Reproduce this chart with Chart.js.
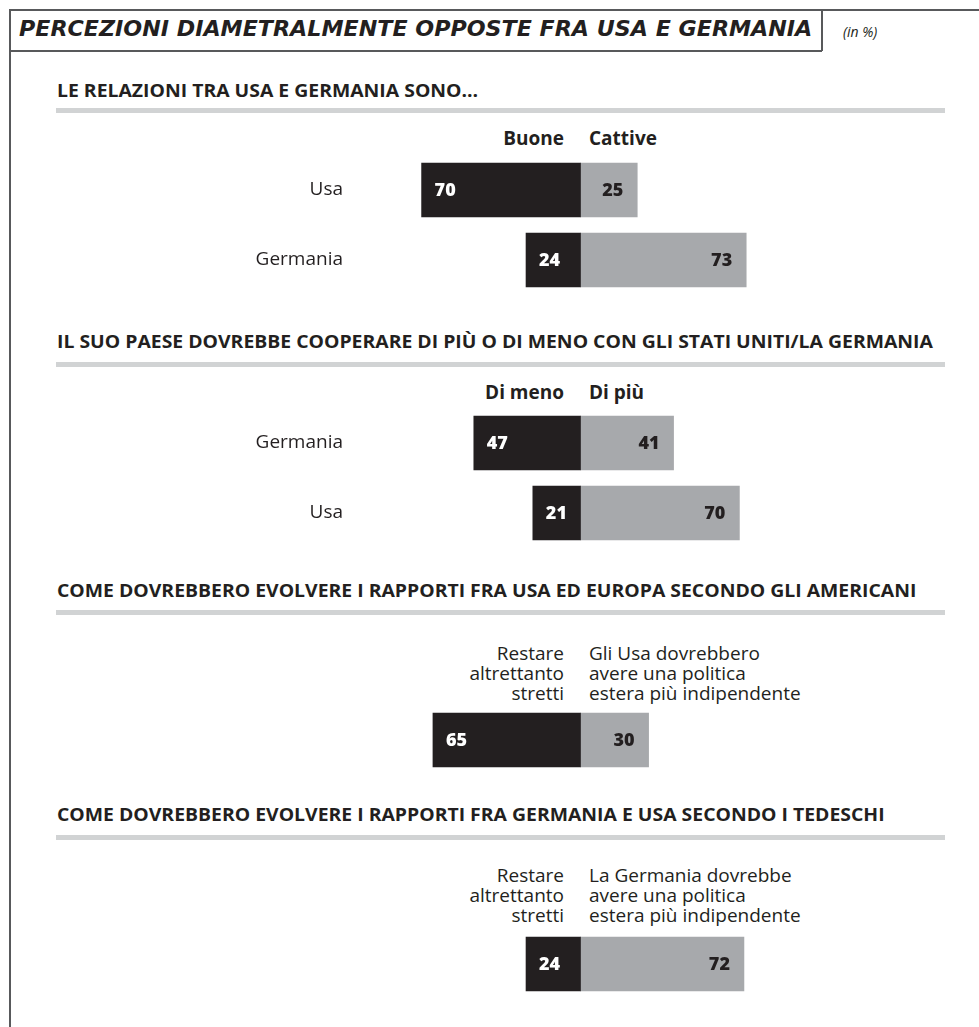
<!DOCTYPE html>
<html lang="it">
<head>
<meta charset="utf-8">
<title>Percezioni diametralmente opposte fra Usa e Germania</title>
<script src="https://cdn.jsdelivr.net/npm/chart.js@4.4.0/dist/chart.umd.min.js"></script>
<style>
  body { margin: 0; background: #fff; font-family: "Open Sans", sans-serif; color: #231f20; }
  #page { position: relative; width: 979px; height: 1027px; overflow: hidden; }
  .abs { position: absolute; white-space: nowrap; }
  .line { position: absolute; background: #58595b; }
  .rule { position: absolute; left: 56px; width: 889px; height: 5px; background: #d1d3d4; }
  .title { left: 19px; top: 14px; line-height: 30px; font-family: "DejaVu Sans", sans-serif; font-weight: bold; font-style: italic; font-size: 22px; transform-origin: left center; }
  .unit { left: 843px; top: 22px; line-height: 20px; font-size: 14px; font-style: italic; }
  .head { left: 57px; line-height: 24px; font-size: 17px; font-weight: bold; transform-origin: left center; }
  .colL { right: 415px; text-align: right; line-height: 20px; font-size: 19px; }
  .colR { left: 589px; text-align: left; line-height: 20px; font-size: 19px; }
  .bold { font-weight: bold; }
  canvas { position: absolute; left: 0; }
</style>
</head>
<body>
<div id="page">
  <div class="line" style="left:9px; top:9px; width:970px; height:1.5px;"></div>
  <div class="line" style="left:9px; top:9px; width:1.5px; height:1018px;"></div>
  <div class="line" style="left:821px; top:9px; width:1.5px; height:42px;"></div>
  <div class="line" style="left:9px; top:50px; width:813px; height:1.5px;"></div>
  <div class="abs title" id="title">PERCEZIONI DIAMETRALMENTE OPPOSTE FRA USA E GERMANIA</div>
  <div class="abs unit">(in %)</div>

  <div class="abs head" id="h1" style="top:79px;"></div>
  <div class="rule" style="top:108px;"></div>
  <div class="abs colL bold" id="c1l" style="top:128px;"></div>
  <div class="abs colR bold" id="c1r" style="top:128px;"></div>
  <canvas id="chart1" width="979" height="140" style="top:155px;"></canvas>

  <div class="abs head" id="h2" style="top:330px;"></div>
  <div class="rule" style="top:362px;"></div>
  <div class="abs colL bold" id="c2l" style="top:382px;"></div>
  <div class="abs colR bold" id="c2r" style="top:382px;"></div>
  <canvas id="chart2" width="979" height="140" style="top:408px;"></canvas>

  <div class="abs head" id="h3" style="top:579px;"></div>
  <div class="rule" style="top:610px;"></div>
  <div class="abs colL" id="c3l" style="top:643px;"></div>
  <div class="abs colR" id="c3r" style="top:643px;"></div>
  <canvas id="chart3" width="979" height="70" style="top:705px;"></canvas>

  <div class="abs head" id="h4" style="top:803px;"></div>
  <div class="rule" style="top:835px;"></div>
  <div class="abs colL" id="c4l" style="top:865px;"></div>
  <div class="abs colR" id="c4r" style="top:865px;"></div>
  <canvas id="chart4" width="979" height="70" style="top:929px;"></canvas>
</div>
<script>
// --- dati (in %) ---
const headings = [
  'LE RELAZIONI TRA USA E GERMANIA SONO\u2026',
  'IL SUO PAESE DOVREBBE COOPERARE DI PI\u00d9 O DI MENO CON GLI STATI UNITI/LA GERMANIA',
  'COME DOVREBBERO EVOLVERE I RAPPORTI FRA USA ED EUROPA SECONDO GLI AMERICANI',
  'COME DOVREBBERO EVOLVERE I RAPPORTI FRA GERMANIA E USA SECONDO I TEDESCHI'
];

const relCategories = ['Usa', 'Germania'];
const relLabels = ['Buone', 'Cattive'];
const relBuone = [70, 24];
const relCattive = [25, 73];

const coopCategories = ['Germania', 'Usa'];
const coopLabels = ['Di meno', 'Di pi\u00f9'];
const coopMeno = [47, 21];
const coopPiu = [41, 70];

const usaCategories = [''];
const usaLabels = ['Restare<br>altrettanto<br>stretti', 'Gli Usa dovrebbero<br>avere una politica<br>estera pi\u00f9 indipendente'];
const usaStretti = [65];
const usaIndipendente = [30];

const gerCategories = [''];
const gerLabels = ['Restare<br>altrettanto<br>stretti', 'La Germania dovrebbe<br>avere una politica<br>estera pi\u00f9 indipendente'];
const gerStretti = [24];
const gerIndipendente = [72];

// --- stile ---
const DARK = '#231f20';
const GREY = '#a7a9ac';
const AXIS_W = 360;      // left edge of the plot area
const ZERO_X = 580.5;    // where the two halves meet
const PX_PER_UNIT = 2.27;

Chart.defaults.font.family = '"Open Sans", sans-serif';
Chart.defaults.color = DARK;

// numbers inside the bars
const valueLabels = {
  id: 'valueLabels',
  afterDatasetsDraw(chart) {
    const ctx = chart.ctx;
    ctx.save();
    ctx.font = '800 18px "Open Sans"';
    ctx.textBaseline = 'middle';
    chart.data.datasets.forEach((ds, i) => {
      chart.getDatasetMeta(i).data.forEach((bar, j) => {
        const v = Math.abs(ds.data[j]);
        const l = Math.min(bar.x, bar.base);
        const r = Math.max(bar.x, bar.base);
        if (i === 0) {
          ctx.fillStyle = '#fff';
          ctx.textAlign = 'left';
          ctx.fillText(v, l + 13, bar.y + 1);
        } else {
          ctx.fillStyle = DARK;
          ctx.textAlign = 'right';
          ctx.fillText(v, r - 14, bar.y + 1);
        }
      });
    });
    ctx.restore();
  }
};

function makeChart(id, categories, leftValues, rightValues) {
  const canvas = document.getElementById(id);
  const xMin = -(ZERO_X - AXIS_W) / PX_PER_UNIT;
  const xMax = (canvas.width - ZERO_X) / PX_PER_UNIT;
  return new Chart(canvas, {
    type: 'bar',
    data: {
      labels: categories,
      datasets: [
        { data: leftValues.map(v => -v), backgroundColor: DARK, barThickness: 54, borderWidth: 0 },
        { data: rightValues, backgroundColor: GREY, barThickness: 54, borderWidth: 0 }
      ]
    },
    options: {
      indexAxis: 'y',
      responsive: false,
      animation: false,
      layout: { padding: 0 },
      plugins: { legend: { display: false }, tooltip: { enabled: false } },
      scales: {
        x: { type: 'linear', display: false, stacked: true, min: xMin, max: xMax },
        y: {
          stacked: true,
          grid: { display: false },
          border: { display: false },
          ticks: { font: { size: 19 }, color: DARK, padding: 9 },
          afterFit(axis) {
            axis.width = AXIS_W;
            // keep the label padding from eating the plot height
            axis.paddingTop = 0;
            axis.paddingBottom = 0;
          }
        }
      }
    },
    plugins: [valueLabels]
  });
}

// headings and column captions
['h1', 'h2', 'h3', 'h4'].forEach((id, i) => { document.getElementById(id).textContent = headings[i]; });
[[relLabels, 1], [coopLabels, 2], [usaLabels, 3], [gerLabels, 4]].forEach(([lab, n]) => {
  document.getElementById('c' + n + 'l').innerHTML = lab[0];
  document.getElementById('c' + n + 'r').innerHTML = lab[1];
});

// squeeze the heading fonts to the width of the original lettering
const title = document.getElementById('title');
title.style.transform = 'scaleX(' + (793 / title.scrollWidth) + ')';
const headScale = 876 / document.getElementById('h2').scrollWidth;
['h1', 'h2', 'h3', 'h4'].forEach(id => {
  document.getElementById(id).style.transform = 'scaleX(' + headScale + ')';
});

makeChart('chart1', relCategories, relBuone, relCattive);
makeChart('chart2', coopCategories, coopMeno, coopPiu);
makeChart('chart3', usaCategories, usaStretti, usaIndipendente);
makeChart('chart4', gerCategories, gerStretti, gerIndipendente);
</script>
</body>
</html>
